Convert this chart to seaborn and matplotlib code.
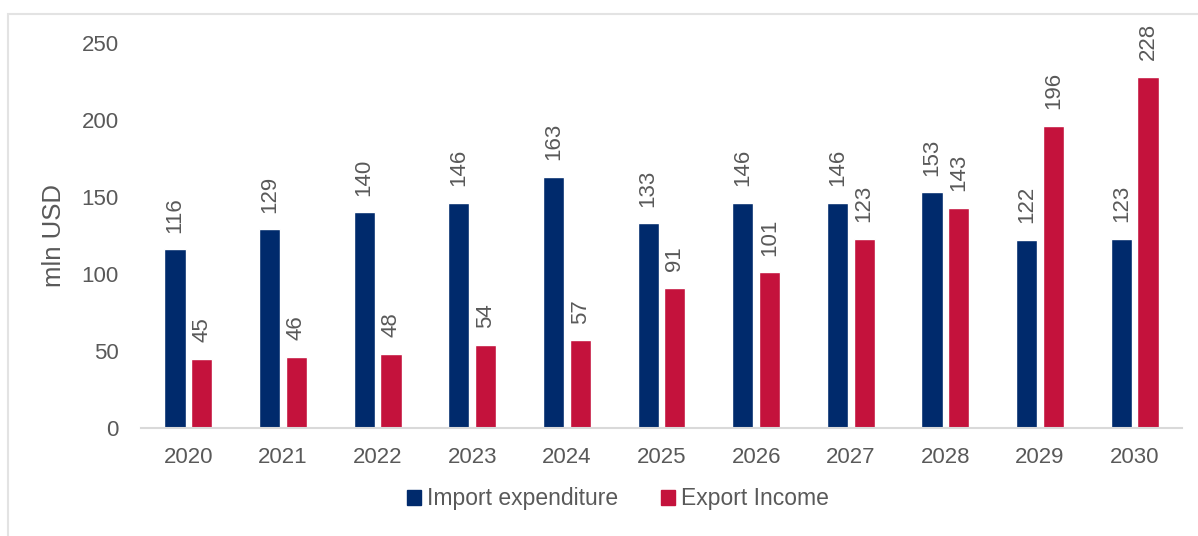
import matplotlib
matplotlib.use("Agg")
import matplotlib.pyplot as plt
from matplotlib.patches import Rectangle
import seaborn as sns
import pandas as pd

years = ["2020", "2021", "2022", "2023", "2024", "2025", "2026", "2027", "2028", "2029", "2030"]
import_expenditure = [116, 129, 140, 146, 163, 133, 146, 146, 153, 122, 123]
export_income = [45, 46, 48, 54, 57, 91, 101, 123, 143, 196, 228]
series_names = ["Import expenditure", "Export Income"]
colors = ["#002A6C", "#C4123C"]

df = pd.DataFrame({
    "year": years * 2,
    "value": import_expenditure + export_income,
    "series": [series_names[0]] * len(years) + [series_names[1]] * len(years),
})

sns.set_style("white")
plt.rcParams["font.family"] = ["Liberation Sans", "DejaVu Sans"]
text_color = "#595959"
fs = 16

fig = plt.figure(figsize=(11.98, 5.36), dpi=100)
ax = fig.add_axes([141 / 1198, 1 - 428 / 536, (1182 - 141) / 1198, (428 - 43) / 536])

sns.barplot(data=df, x="year", y="value", hue="series", palette=colors,
            width=0.565, gap=0.21, ax=ax, legend=False, saturation=1)

for container in ax.containers:
    ax.bar_label(container, fmt="%d", rotation=90, padding=12,
                 fontsize=fs, color=text_color)

ax.set_ylim(0, 250)
ax.set_yticks(range(0, 251, 50))
ax.set_xlim(-0.5, len(years) - 0.5)
ax.set_xlabel("")
ax.set_ylabel("mln USD", fontsize=18.5, color=text_color)
ax.yaxis.set_label_coords(-0.072, 0.5)
ax.tick_params(axis="both", labelsize=fs, colors=text_color, length=0)
ax.tick_params(axis="y", pad=16)
ax.tick_params(axis="x", pad=14)
for side in ["top", "right", "left"]:
    ax.spines[side].set_visible(False)
ax.spines["bottom"].set_color("#D9D9D9")
ax.spines["bottom"].set_linewidth(1.5)

handles = [Rectangle((0, 0), 1, 1, color=c) for c in colors]
fig.legend(handles, series_names, loc="center", bbox_to_anchor=(618 / 1198, 1 - 499 / 536),
           ncol=2, frameon=False, fontsize=16.5, labelcolor=text_color,
           handlelength=0.6, handleheight=0.6, handletextpad=0.25, columnspacing=1.9)

fig.patches.append(Rectangle((8 / 1198, -0.05), 1.1, 1 - 14 / 536 + 0.05,
                             transform=fig.transFigure, fill=False,
                             edgecolor="#E3E3E3", linewidth=1.5))

fig.savefig("out.png", dpi=100)
